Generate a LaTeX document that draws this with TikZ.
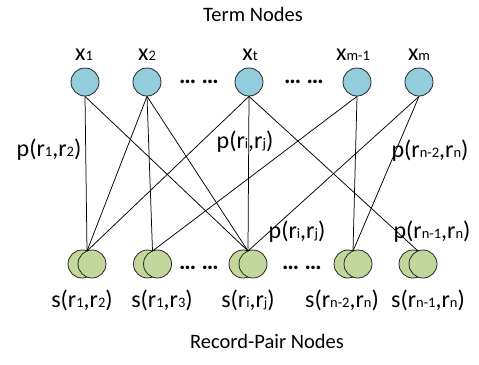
\documentclass[tikz,border=0pt]{standalone}
\usepackage{fontspec}
\setmainfont{Carlito}
\definecolor{tblue}{RGB}{147,205,221}
\definecolor{pgreen}{RGB}{195,214,155}
\newcommand\sbs[1]{\raisebox{-0.8pt}{\fontsize{14.5}{14.5}\selectfont #1}}
\begin{document}
\begin{tikzpicture}[x=1pt,y=-1pt,
 term/.style={circle,draw=black!85,fill=tblue,minimum size=28pt,inner sep=0pt,line width=0.8pt},
 rec/.style={circle,draw=black!85,fill=pgreen,minimum size=28pt,inner sep=0pt,line width=0.8pt},
 lbl/.style={anchor=base,inner sep=0pt,font=\fontsize{24}{24}\selectfont},
 ttl/.style={anchor=base,inner sep=0pt,font=\fontsize{20.5}{20.5}\selectfont},
 dotsn/.style={anchor=center,inner sep=0pt,font=\fontsize{24}{24}\selectfont\bfseries},
 edge/.style={line width=0.75pt}]
\useasboundingbox (0,0) rectangle (479,364);

% titles
\node[ttl] (tt) at (253,21) {Term Nodes};
\node[ttl] (rt) at (267,348) {Record-Pair Nodes};

% term nodes
\node[term] (t1) at (85,82) {};
\node[term] (t2) at (147,82) {};
\node[term] (t3) at (249,82) {};
\node[term] (t4) at (357,82) {};
\node[term] (t5) at (419,82) {};

\node[lbl] (lx1) at (84,60) {x\sbs{1}};
\node[lbl] (lx2) at (147,60) {x\sbs{2}};
\node[lbl] (lx3) at (250,60) {x\sbs{t}};
\node[lbl] (lx4) at (353,60) {x\sbs{m-1}};
\node[lbl] (lx5) at (419,60) {x\sbs{m}};

\node[dotsn] (d1) at (199,82) {\ldots\ \ldots};
\node[dotsn] (d2) at (304,82) {\ldots\ \ldots};

% record-pair nodes
\foreach \i/\m in {1/87,2/152.5,3/248,4/353,5/418}{
  \node[rec] (bl\i) at (\m-5,264) {};
  \node[rec] (br\i) at (\m+5,264) {};
  \coordinate (b\i) at (\m,251);
}

\node[dotsn] (d3) at (199,268) {\ldots\ \ldots};
\node[dotsn] (d4) at (302,268) {\ldots\ \ldots};

% edges
\draw[edge] (t1.south) -- (b1);
\draw[edge] (t1.south) -- (b3);
\draw[edge] (t2.south) -- (b1);
\draw[edge] (t2.south) -- (b2);
\draw[edge] (t2.south) -- (b3);
\draw[edge] (t3.south) -- (b1);
\draw[edge] (t3.south) -- (b3);
\draw[edge] (t3.south) -- (b5);
\draw[edge] (t4.south) -- (b2);
\draw[edge] (t4.south) -- (b4);
\draw[edge] (t5.south) -- (b3);
\draw[edge] (t5.south) -- (b4);

% edge labels
\node[lbl] (p1) at (49,156) {p(r\sbs{1},r\sbs{2})};
\node[lbl] (p2) at (245,148) {p(r\sbs{i},r\sbs{j})};
\node[lbl] (p3) at (430,157) {p(r\sbs{n-2},r\sbs{n})};
\node[lbl] (p4) at (297,238) {p(r\sbs{i},r\sbs{j})};
\node[lbl] (p5) at (432,238) {p(r\sbs{n-1},r\sbs{n})};

% record labels
\node[lbl] (s1) at (82,307) {s(r\sbs{1},r\sbs{2})};
\node[lbl] (s2) at (162,307) {s(r\sbs{1},r\sbs{3})};
\node[lbl] (s3) at (248,307) {s(r\sbs{i},r\sbs{j})};
\node[lbl] (s4) at (342,307) {s(r\sbs{n-2},r\sbs{n})};
\node[lbl] (s5) at (428,307) {s(r\sbs{n-1},r\sbs{n})};
\end{tikzpicture}
\end{document}
